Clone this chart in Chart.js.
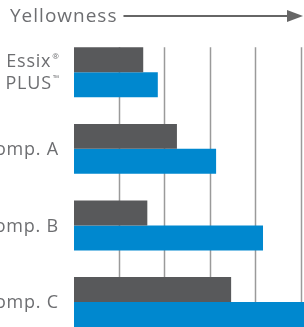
<!DOCTYPE html>
<html>
<head>
<meta charset="utf-8">
<script src="https://cdn.jsdelivr.net/npm/chart.js@4/dist/chart.umd.min.js"></script>
<style>
  html, body { margin: 0; padding: 0; overflow: hidden; background: #fff; }
  #wrap { position: relative; width: 304px; height: 345px; }
</style>
</head>
<body>
<div id="wrap"><canvas id="chart"></canvas></div>
<script>
const categories = [['Essix®', 'PLUS™'], 'Comp. A', 'Comp. B', 'Comp. C'];
const before = [1.52, 2.26, 1.61, 3.45];
const after = [1.84, 3.12, 4.15, 5.1];
const gridTicks = [1, 2, 3, 4, 5];
const axisTitle = 'Yellowness';

const textColor = '#6d6e71';
const fontFamily = "'Open Sans', 'Noto Sans', sans-serif";

// title with arrow along the top
const titleArrow = {
  id: 'titleArrow',
  afterDraw(chart) {
    const ctx = chart.ctx;
    ctx.save();
    ctx.font = '19px ' + fontFamily;
    ctx.letterSpacing = '1px';
    ctx.fillStyle = textColor;
    ctx.textBaseline = 'alphabetic';
    ctx.textAlign = 'left';
    ctx.fillText(axisTitle, 10, 22);
    const w = ctx.measureText(axisTitle).width;
    const y = 16;
    const tip = chart.width - 1;
    ctx.strokeStyle = '#666';
    ctx.lineWidth = 2;
    ctx.beginPath();
    ctx.moveTo(10 + w + 6, y);
    ctx.lineTo(tip - 12, y);
    ctx.stroke();
    ctx.fillStyle = '#666';
    ctx.beginPath();
    ctx.moveTo(tip, y);
    ctx.lineTo(tip - 16, y - 6);
    ctx.lineTo(tip - 16, y + 6);
    ctx.closePath();
    ctx.fill();
    ctx.restore();
  }
};

// vertical grid lines starting at the top of the first bar
const gridLines = {
  id: 'gridLines',
  beforeDatasetsDraw(chart) {
    const ctx = chart.ctx;
    const bar = chart.getDatasetMeta(0).data[0];
    const top = bar.y - bar.height / 2;
    const x = chart.scales.x;
    ctx.save();
    ctx.strokeStyle = '#9a9a9a';
    ctx.lineWidth = 1.5;
    gridTicks.forEach(t => {
      const px = Math.round(x.getPixelForValue(t)) - 0.5;
      ctx.beginPath();
      ctx.moveTo(px, top);
      ctx.lineTo(px, chart.height);
      ctx.stroke();
    });
    ctx.restore();
  }
};

// category labels, right aligned, with small superscripts
const catLabels = {
  id: 'catLabels',
  afterDraw(chart) {
    const ctx = chart.ctx;
    const y = chart.scales.y;
    const right = 59;
    const lineH = 22;
    ctx.save();
    ctx.fillStyle = textColor;
    ctx.textBaseline = 'middle';
    categories.forEach((label, i) => {
      const lines = Array.isArray(label) ? label : [label];
      const cy = y.getPixelForValue(i) + 1;
      lines.forEach((line, j) => {
        const ly = cy + (j - (lines.length - 1) / 2) * lineH;
        let main = line;
        let sup = '';
        const last = line.slice(-1);
        if (last === '®' || last === '™') {
          main = line.slice(0, -1);
          sup = last;
        }
        let x = right;
        if (sup) {
          ctx.font = '8px ' + fontFamily;
          ctx.letterSpacing = '0px';
          ctx.textAlign = 'right';
          ctx.fillText(sup, x, ly - 6);
          x -= ctx.measureText(sup).width + 1;
        }
        ctx.font = '18px ' + fontFamily;
        ctx.letterSpacing = '0.8px';
        ctx.textAlign = 'right';
        ctx.fillText(main, x, ly);
      });
    });
    ctx.restore();
  }
};

new Chart(document.getElementById('chart'), {
  type: 'bar',
  data: {
    labels: categories,
    datasets: [
      { data: before, backgroundColor: '#58595b' },
      { data: after, backgroundColor: '#0088cf' }
    ]
  },
  options: {
    indexAxis: 'y',
    responsive: true,
    maintainAspectRatio: false,
    animation: false,
    categoryPercentage: 0.652,
    barPercentage: 1,
    layout: { padding: { left: 74, top: 34, right: 0, bottom: 4.7 } },
    plugins: {
      legend: { display: false },
      title: { display: false },
      tooltip: { enabled: false }
    },
    scales: {
      x: { display: false, min: 0, max: 5.05 },
      y: { display: false, offset: true }
    }
  },
  plugins: [gridLines, titleArrow, catLabels]
});
</script>
</body>
</html>
